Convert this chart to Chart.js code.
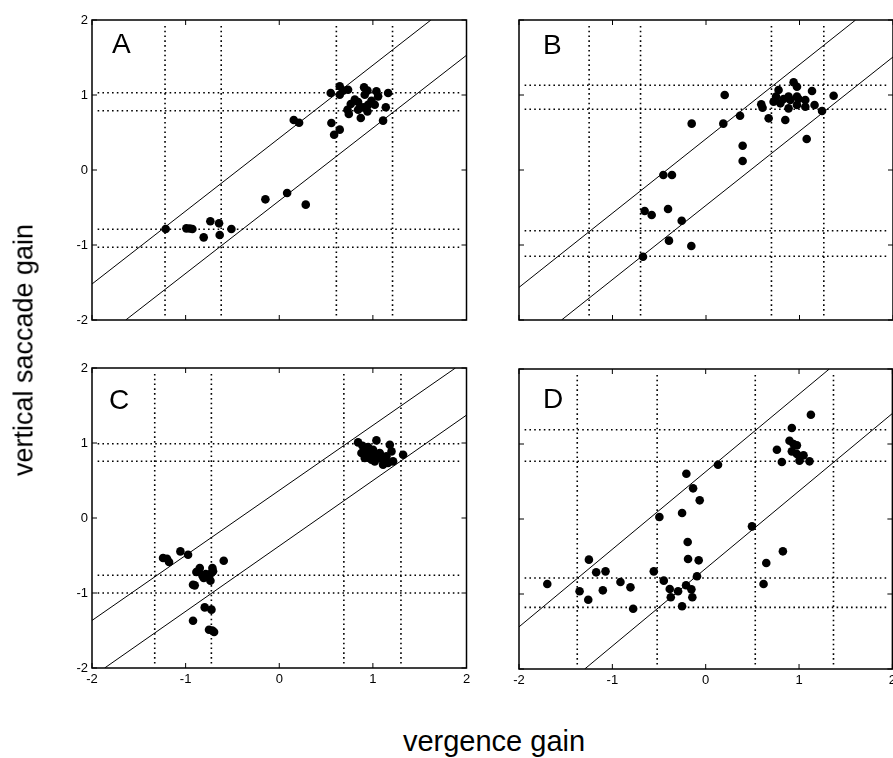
<!DOCTYPE html>
<html><head><meta charset="utf-8">
<script src="https://cdn.jsdelivr.net/npm/chart.js@4.4.1/dist/chart.umd.min.js"></script>
<style>
html,body{margin:0;padding:0;background:#fff;width:893px;height:758px;overflow:hidden;position:relative;font-family:"Liberation Sans",Arial,Helvetica,sans-serif;}
canvas{position:absolute;}
.t{position:absolute;color:#000;white-space:nowrap;font-family:"Liberation Sans",Arial,sans-serif;}
.panel{font-size:28px;line-height:28px;}
</style></head><body>
<canvas id="cA" width="480" height="340" style="left:0;top:0"></canvas>
<canvas id="cB" width="400" height="340" style="left:500px;top:0"></canvas>
<canvas id="cC" width="480" height="350" style="left:0;top:348px"></canvas>
<canvas id="cD" width="400" height="350" style="left:500px;top:349px"></canvas>
<div class="t panel" style="left:112px;top:30px">A</div>
<div class="t panel" style="left:543px;top:31px">B</div>
<div class="t panel" style="left:109px;top:386px">C</div>
<div class="t panel" style="left:543px;top:385px">D</div>
<div class="t" id="ytitle" style="left:24px;top:350px;font-size:27px;line-height:27px;transform:translate(-50%,-50%) rotate(-90deg);">vertical saccade gain</div>
<div class="t" id="xtitle" style="left:494px;top:727px;font-size:29px;line-height:29px;transform:translateX(-50%);">vergence gain</div>
<script>
// ---- axis ticks ----
const tickValues = [-2, -1, 0, 1, 2];

// ---- Panel A ----
const aX = [-1.213,-0.992,-0.956,-0.928,-0.807,-0.736,-0.643,-0.636,-0.511,
  -0.148,0.084,0.283,0.155,0.212,
  0.550,0.646,0.682,0.735,0.646,0.906,0.942,1.038,1.163,1.056,0.913,0.807,0.842,0.764,0.729,0.743,0.842,0.871,0.942,0.949,1.020,1.138,0.557,0.646,0.586,1.109,0.985,0.896];
const aY = [-0.787,-0.778,-0.780,-0.787,-0.898,-0.684,-0.711,-0.867,-0.787,
  -0.391,-0.307,-0.462,0.667,0.631,
  1.027,1.116,1.058,1.071,1.004,1.102,1.058,1.049,1.027,0.982,1.004,0.938,0.907,0.880,0.804,0.747,0.804,0.693,0.782,0.871,0.871,0.836,0.627,0.538,0.471,0.658,0.924,0.836];
const aVLines = [-1.22, -0.62, 0.61, 1.21];
const aHLines = [1.03, 0.79, -0.79, -1.03];
const aUpperX = [-2, 1.62], aUpperY = [-1.52, 2];
const aLowerX = [-1.64, 2], aLowerY = [-2, 1.53];

// ---- Panel B ----
const bX = [0.200,-0.153,0.185,0.364,0.392,0.392,-0.456,-0.364,-0.656,-0.581,-0.406,-0.260,-0.396,-0.157,-0.674,1.077,
  0.937,0.973,0.776,1.134,1.365,0.883,0.973,0.749,0.830,0.902,0.990,1.062,0.723,0.795,0.591,0.605,0.883,1.062,1.161,1.241,0.670,0.848,0.973];
const bY = [1.000,0.618,0.618,0.724,0.324,0.120,-0.067,-0.067,-0.547,-0.600,-0.520,-0.676,-0.942,-1.013,-1.156,0.413,
  1.169,1.111,1.067,1.053,0.991,0.978,0.978,0.978,0.947,0.933,0.947,0.933,0.911,0.889,0.876,0.831,0.822,0.844,0.867,0.787,0.689,0.667,0.867];
const bVLines = [-1.25, -0.70, 0.70, 1.26];
const bHLines = [1.13, 0.81, -0.81, -1.15];
const bUpperX = [-2, 1.60], bUpperY = [-1.565, 2];
const bLowerX = [-1.545, 2], bLowerY = [-2, 1.507];

// ---- Panel C ----
const cX = [-1.241,-1.199,-1.177,-1.056,-0.974,-0.593,
  -0.849,-0.867,-0.821,-0.785,-0.714,-0.707,-0.750,-0.735,-0.807,-0.921,-0.903,-0.885,-0.725,
  -0.921,-0.796,-0.724,-0.750,-0.715,-0.696,
  0.842,0.889,1.038,1.181,1.199,1.323,1.109,1.216,0.878,0.932,0.967,1.002,1.038,1.074,0.985,1.020,1.092,1.145,0.913,1.162,0.949];
const cY = [-0.533,-0.543,-0.587,-0.445,-0.489,-0.569,
  -0.667,-0.711,-0.765,-0.747,-0.667,-0.711,-0.800,-0.836,-0.800,-0.889,-0.898,-0.720,-0.733,
  -1.369,-1.192,-1.222,-1.489,-1.500,-1.520,
  1.008,0.964,1.035,0.977,0.888,0.844,0.711,0.755,0.867,0.902,0.844,0.911,0.822,0.867,0.778,0.755,0.787,0.822,0.800,0.733,0.947];
const cVLines = [-1.33, -0.725, 0.69, 1.30];
const cHLines = [0.99, 0.756, -0.764, -1.0];
const cUpperX = [-2, 1.882], cUpperY = [-1.366, 2];
const cLowerX = [-1.865, 2], cLowerY = [-2, 1.372];

// ---- Panel D ----
const dX = [-1.697,-1.351,-1.258,-1.251,-1.173,-1.073,-1.102,-0.913,-0.806,-0.777,
  -0.556,-0.449,-0.385,-0.374,-0.296,-0.253,-0.210,-0.153,-0.143,-0.093,-0.189,-0.075,-0.193,-0.253,-0.496,
  -0.207,-0.135,-0.064,0.132,0.496,0.827,0.649,0.620,
  1.127,0.923,0.898,0.941,0.977,0.923,0.977,1.048,0.763,0.816,1.005,1.112];
const dY = [-0.867,-0.964,-1.076,-0.542,-0.711,-0.698,-0.951,-0.840,-0.911,-1.196,
  -0.698,-0.822,-0.933,-1.044,-0.964,-1.164,-0.884,-0.938,-1.044,-0.764,-0.533,-0.551,-0.307,0.080,0.027,
  0.604,0.409,0.249,0.724,-0.098,-0.431,-0.587,-0.867,
  1.391,1.213,1.044,1.000,0.982,0.902,0.867,0.849,0.924,0.760,0.778,0.769];
const dVLines = [-1.376, -0.52, 0.531, 1.369];
const dHLines = [1.19, 0.77, -0.787, -1.178];
const dUpperX = [-2, 1.324], dUpperY = [-1.438, 2];
const dLowerX = [-1.296, 2], dLowerY = [-2, 1.407];

const REF_EXTENT = 1.94;

const framePlugin = {
  id: 'frame',
  afterDatasetsDraw(chart) {
    const {ctx, chartArea: a, scales: {x, y}} = chart;
    ctx.save();
    ctx.strokeStyle = '#000';
    ctx.lineWidth = 1.5;
    ctx.strokeRect(a.left, a.top, a.right - a.left, a.bottom - a.top);
    ctx.lineWidth = 1;
    ctx.beginPath();
    tickValues.forEach(v => {
      const px = x.getPixelForValue(v), py = y.getPixelForValue(v);
      ctx.moveTo(px, a.bottom); ctx.lineTo(px, a.bottom - 5);
      ctx.moveTo(px, a.top); ctx.lineTo(px, a.top + 5);
      ctx.moveTo(a.left, py); ctx.lineTo(a.left + 5, py);
      ctx.moveTo(a.right, py); ctx.lineTo(a.right - 5, py);
    });
    ctx.stroke();
    ctx.restore();
  }
};

function pts(xs, ys) { return xs.map((v, i) => ({x: v, y: ys[i]})); }

function makePanel(id, xs, ys, vL, hL, upX, upY, loX, loY, o) {
  const datasets = [];
  datasets.push({type: 'scatter', data: pts(xs, ys), backgroundColor: '#000', borderWidth: 0, pointRadius: 4.3, order: 0});
  datasets.push({type: 'line', data: pts(upX, upY), borderColor: '#000', borderWidth: 1, pointRadius: 0, order: 1});
  datasets.push({type: 'line', data: pts(loX, loY), borderColor: '#000', borderWidth: 1, pointRadius: 0, order: 1});
  vL.forEach(v => datasets.push({type: 'line', data: [{x: v, y: -REF_EXTENT}, {x: v, y: REF_EXTENT}], borderColor: '#000', borderWidth: 1.6, borderDash: [1.6, 3.2], pointRadius: 0, order: 2}));
  hL.forEach(v => datasets.push({type: 'line', data: [{x: -REF_EXTENT, y: v}, {x: REF_EXTENT, y: v}], borderColor: '#000', borderWidth: 1.6, borderDash: [1.6, 3.2], pointRadius: 0, order: 2}));
  return new Chart(document.getElementById(id), {
    type: 'scatter',
    data: {datasets},
    options: {
      responsive: false, animation: false, devicePixelRatio: 1,
      layout: {padding: o.padding},
      plugins: {legend: {display: false}, tooltip: {enabled: false}},
      scales: {
        x: {type: 'linear', min: -2, max: 2,
          ticks: {display: o.showX, stepSize: 1, color: '#000', padding: 4, font: {size: 13, family: '"Liberation Sans", Arial, sans-serif'}},
          grid: {display: false, drawTicks: false}, border: {display: false},
          afterFit: s => { s.height = o.xH; }},
        y: {type: 'linear', min: -2, max: 2,
          ticks: {display: o.showY, stepSize: 1, color: '#000', padding: 4, font: {size: 13, family: '"Liberation Sans", Arial, sans-serif'}},
          grid: {display: false, drawTicks: false}, border: {display: false},
          afterFit: s => { s.width = o.yW; }}
      }
    },
    plugins: [framePlugin]
  });
}

makePanel('cA', aX, aY, aVLines, aHLines, aUpperX, aUpperY, aLowerX, aLowerY,
  {showX: false, showY: true, xH: 20, yW: 92, padding: {top: 20, right: 13.5, left: 0, bottom: 0}});
makePanel('cB', bX, bY, bVLines, bHLines, bUpperX, bUpperY, bLowerX, bLowerY,
  {showX: false, showY: false, xH: 20, yW: 19, padding: {top: 20, right: 7, left: 0, bottom: 0}});
makePanel('cC', cX, cY, cVLines, cHLines, cUpperX, cUpperY, cLowerX, cLowerY,
  {showX: true, showY: true, xH: 30, yW: 92, padding: {top: 20, right: 13.5, left: 0, bottom: 0}});
makePanel('cD', dX, dY, dVLines, dHLines, dUpperX, dUpperY, dLowerX, dLowerY,
  {showX: true, showY: false, xH: 30, yW: 19, padding: {top: 20, right: 7, left: 0, bottom: 0}});
</script>
</body></html>
